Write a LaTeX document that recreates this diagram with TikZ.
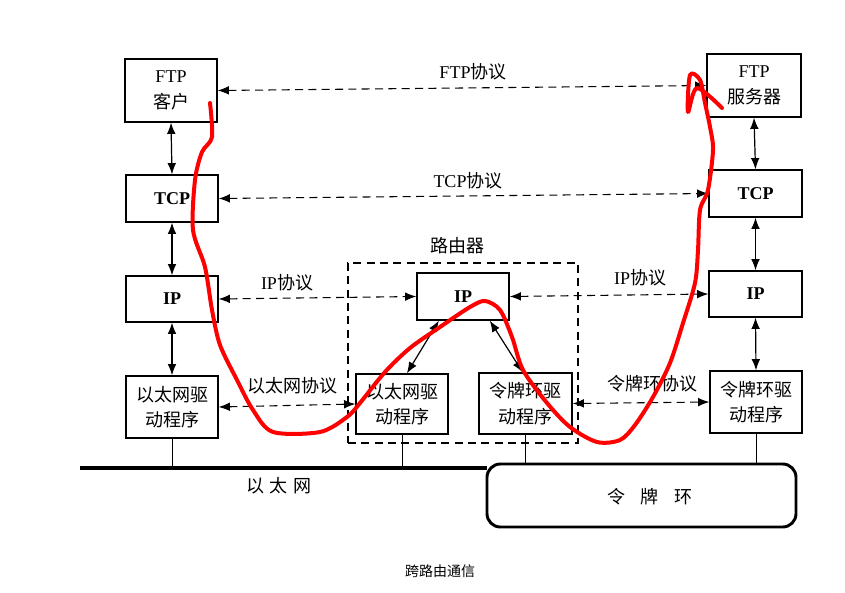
\documentclass[tikz,border=0pt]{standalone}
\usepackage{fontspec}
\setmainfont{Liberation Serif}
\newfontfamily\cjk{Noto Sans CJK SC}
\usetikzlibrary{arrows.meta}
\begin{document}
\begin{tikzpicture}[x=0.75pt,y=-0.75pt,
  box/.style={draw, line width=0.9pt, inner sep=0pt, align=center, font=\fontsize{13.5}{19}\selectfont},
  lbl/.style={inner sep=0pt, font=\fontsize{13.5}{16}\selectfont},
  tip/.style={Latex[length=8.5pt,width=6.5pt]},
  proto/.style={dashed, dash pattern=on 6pt off 4pt, line width=0.8pt, {Latex[length=8.5pt,width=6.5pt]}-{Latex[length=8.5pt,width=6.5pt]}},
  stack/.style={line width=0.9pt, {Latex[length=8.5pt,width=6.5pt]}-{Latex[length=8.5pt,width=6.5pt]}},
  stub/.style={line width=0.7pt},
  net/.style={line width=2.4pt}]
\path[use as bounding box, fill=white] (0,0) rectangle (845,592);

% left host
\node[box, minimum width=69pt, minimum height=47.25pt] (ftpc) at (171,90.5) {FTP\\{\cjk 客户}};
\node[box, minimum width=69pt, minimum height=35.25pt] (tcpl) at (172,198.5) {\textbf{TCP}};
\node[box, minimum width=69pt, minimum height=34.5pt] (ipl) at (172,299) {\textbf{IP}};
\node[box, minimum width=69pt, minimum height=46.5pt] (ethl) at (172,407) {\cjk 以太网驱\\\cjk 动程序};

% right host
\node[box, minimum width=70.5pt, minimum height=47.25pt] (ftps) at (754,85.5) {FTP\\{\cjk 服务器}};
\node[box, minimum width=69.75pt, minimum height=35.25pt] (tcpr) at (755.5,193.5) {\textbf{TCP}};
\node[box, minimum width=69.75pt, minimum height=34.5pt] (ipr) at (755.5,294) {\textbf{IP}};
\node[box, minimum width=69pt, minimum height=46.5pt] (tokr) at (756,402) {\cjk 令牌环驱\\\cjk 动程序};

% router
\node[draw, dashed, dash pattern=on 6pt off 4pt, line width=0.8pt, minimum width=172.5pt, minimum height=135pt] (router) at (463,353) {};
\node[lbl] (routerlbl) at (457,246) {\cjk 路由器};
\node[box, minimum width=69pt, minimum height=35.25pt] (rip) at (463,296.5) {\textbf{IP}};
\node[box, minimum width=69pt, minimum height=45pt] (reth) at (402,404) {\cjk 以太网驱\\\cjk 动程序};
\node[box, minimum width=69.75pt, minimum height=45.75pt] (rtok) at (525.5,403.5) {\cjk 令牌环驱\\\cjk 动程序};

% networks
\coordinate (ethA) at (80,468);
\coordinate (ethB) at (487,468);
\draw[net] (ethA) -- (ethB);
\node[lbl] (ethlbl) at (279,486) {\cjk 以\hspace{4pt}太\hspace{4pt}网};
\node[draw, line width=2.2pt, rounded corners=10pt, minimum width=231.75pt, minimum height=47.25pt] (ring) at (641.5,495.5) {};
\node[lbl] (ringlbl) at (650,497) {\cjk 令\hspace{12pt}牌\hspace{12pt}环};

\draw[stub] (ethl.south) -- (ethl.south |- ethA);
\draw[stub] (reth.south) -- (reth.south |- ethA);
\draw[stub] (rtok.south) -- (rtok.south |- ring.north);
\draw[stub] (tokr.south) -- (tokr.south |- ring.north);

% protocol connectors
\draw[proto] (ftpc.east) -- (ftps.west);
\draw[proto] (tcpl.east) -- (tcpr.west);
\draw[proto] (ipl.east) -- (rip.west);
\draw[proto] (rip.east) -- (ipr.west);
\draw[proto] (ethl.east) -- (reth.west);
\draw[proto] (rtok.east) -- (tokr.west);

\node[lbl] (l1) at (473,72) {FTP{\cjk 协议}};
\node[lbl] (l2) at (468,181) {TCP{\cjk 协议}};
\node[lbl] (l3) at (287,283) {IP{\cjk 协议}};
\node[lbl] (l4) at (640,278) {IP{\cjk 协议}};
\node[lbl] (l5) at (292,386) {\cjk 以太网协议};
\node[lbl] (l6) at (652,384) {\cjk 令牌环协议};

% stacks
\draw[stack] (ftpc.south) -- (tcpl.north);
\draw[stack] (tcpl.south) -- (ipl.north);
\draw[stack] (ipl.south) -- (ethl.north);
\draw[stack] (ftps.south) -- (tcpr.north);
\draw[stack] (tcpr.south) -- (ipr.north);
\draw[stack] (ipr.south) -- (tokr.north);
\draw[stack] (rip.225) -- (reth.81);
\draw[stack] (rip.318) -- (rtok.95);

% caption
\node[inner sep=0pt, font=\fontsize{10.5}{12}\selectfont] (cap) at (440,571) {\cjk 跨路由通信};

% red hand-drawn path
\draw[red, line width=3pt, line cap=round, line join=round] plot[smooth, tension=0.5] coordinates {
(210,103) (212,137) (202,152) (195,180) (193,230) (205,267) (212,310) (220,345) (237,380) (253,410) (273,432) (320,432) (347,417) (360,403) (385,372) (410,348) (440,327) (470,307) (485,301) (500,310) (512,337) (523,370) (547,403) (570,427) (597,442) (620,440) (635,425) (653,397) (670,363) (683,323) (695,283) (698,250) (700,210) (708,190) (713,150) (710,127) (705,103) (700,80) (690,75) (688,112) (697,88) (722,108)};
\end{tikzpicture}
\end{document}
